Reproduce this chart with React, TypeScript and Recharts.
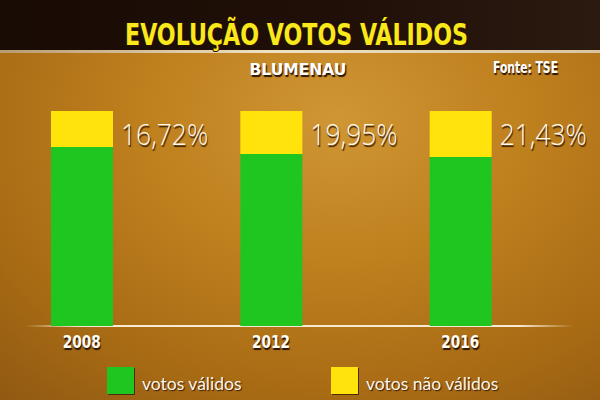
import React from "react";
import { BarChart, Bar, XAxis, YAxis, Legend, LabelList } from "recharts";

// votos por eleição (%), Blumenau - fonte TSE
const years = ["2008", "2012", "2016"];
const votosValidos = [83.28, 80.05, 78.57];
const votosNaoValidos = [16.72, 19.95, 21.43];

const GREEN = "#20c620";
const YELLOW = "#ffe30a";
const COND = "'DejaVu Sans Condensed', 'DejaVu Sans', sans-serif";
const SERIES_ORDER = ["validos", "naoValidos"];

const data = years.map((year, i) => ({
  year,
  validos: votosValidos[i],
  naoValidos: votosNaoValidos[i],
}));

const fmt = (v: number) => `${v.toFixed(2).replace(".", ",")}%`;

function YearTick({ x, y, payload }: any) {
  return (
    <text
      x={x}
      y={y + 22}
      textAnchor="middle"
      fill="#fffdf4"
      fontFamily={COND}
      fontWeight="bold"
      fontSize={18}
      textLength={38}
      lengthAdjust="spacingAndGlyphs"
      style={{ textShadow: "1px 2px 1px #2a1400" }}
    >
      {payload.value}
    </text>
  );
}

function PercentLabel({ x, y, width, value }: any) {
  const tx = x + width + 8;
  const ty = y + 34;
  return (
    <text
      transform={`translate(${tx},${ty}) scale(0.88,1)`}
      fill="#fffaf0"
      fontFamily="'Open Sans', Lato, sans-serif"
      fontWeight={300}
      fontSize={30}
      style={{ textShadow: "1px 2px 1px #3a1c00" }}
    >
      {fmt(value)}
    </text>
  );
}

export default function App() {
  return (
    <div
      style={{
        position: "absolute",
        left: 0,
        top: 0,
        width: 600,
        height: 400,
        overflow: "hidden",
        background:
          "radial-gradient(ellipse 90% 100% at 56% 30%, #d09634 0%, #bf801e 35%, #a76a14 70%, #8a5512 100%)",
      }}
    >
      {/* faixa do título */}
      <div
        style={{
          position: "absolute",
          left: 0,
          top: 0,
          width: 600,
          height: 50,
          background: "linear-gradient(to right, #190b05, #1f0f07 55%, #2b1a10)",
        }}
      />
      <div
        style={{
          position: "absolute",
          left: 0,
          top: 50,
          width: 600,
          height: 3,
          background: "linear-gradient(to right, #b89a70, #efe2c4 45%, #d8c4a0)",
        }}
      />
      {/* linha de base */}
      <div
        style={{
          position: "absolute",
          left: 25,
          top: 325,
          width: 549,
          height: 2,
          background:
            "linear-gradient(to right, rgba(250,236,205,0), #f7ead0 10%, #f7ead0 90%, rgba(250,236,205,0))",
        }}
      />

      <div style={{ position: "absolute", left: -13, top: 0 }}>
        <BarChart
          width={600}
          height={400}
          data={data}
          margin={{ top: 111, right: 32, bottom: 0, left: 0 }}
        >
          <XAxis
            dataKey="year"
            height={74}
            axisLine={false}
            tickLine={false}
            tickSize={0}
            tickMargin={0}
            tick={<YearTick />}
          />
          <YAxis hide domain={[0, 100]} />
          <Legend
            layout="horizontal"
            verticalAlign="middle"
            align="center"
            wrapperStyle={{ top: 367, left: 120, width: 440 }}
            content={({ payload }) => {
              const items = [...(payload ?? [])].sort(
                (a: any, b: any) =>
                  SERIES_ORDER.indexOf(a.dataKey) - SERIES_ORDER.indexOf(b.dataKey)
              );
              return (
                <div style={{ display: "flex" }}>
                  {items.map((entry: any, index: number) => (
                    <div
                      key={`item-${index}`}
                      style={{
                        display: "flex",
                        alignItems: "center",
                        width: index === 0 ? 224 : "auto",
                      }}
                    >
                      <span
                        style={{
                          display: "inline-block",
                          width: 27,
                          height: 27,
                          background: entry.color,
                          boxShadow: "1px 1px 0 #4a2c06",
                          marginRight: 8,
                        }}
                      />
                      <span
                        style={{
                          fontFamily: "Lato, 'Open Sans', sans-serif",
                          fontSize: 17.5,
                          color: "#fbf6ea",
                          paddingTop: 5,
                          textShadow: "1px 1px 1px #3a1c00",
                        }}
                      >
                        {entry.value}
                      </span>
                    </div>
                  ))}
                </div>
              );
            }}
          />
          <Bar
            dataKey="validos"
            name="votos válidos"
            stackId="a"
            fill={GREEN}
            barSize={62}
            isAnimationActive={false}
          />
          <Bar
            dataKey="naoValidos"
            name="votos não válidos"
            stackId="a"
            fill={YELLOW}
            barSize={62}
            isAnimationActive={false}
          >
            <LabelList dataKey="naoValidos" content={<PercentLabel />} />
          </Bar>
        </BarChart>
      </div>

      <svg
        width={600}
        height={400}
        style={{ position: "absolute", left: 0, top: 0, pointerEvents: "none" }}
      >
        <text
          x={296.5}
          y={45}
          textAnchor="middle"
          fontFamily={COND}
          fontWeight="bold"
          fontSize={31}
          textLength={343}
          lengthAdjust="spacingAndGlyphs"
          fill="#f9e81c"
          stroke="#2a1200"
          strokeWidth={2}
          paintOrder="stroke"
        >
          EVOLUÇÃO VOTOS VÁLIDOS
        </text>
        <text
          x={298}
          y={75}
          textAnchor="middle"
          fontFamily={COND}
          fontWeight="bold"
          fontSize={16.5}
          textLength={97}
          lengthAdjust="spacingAndGlyphs"
          fill="#ffffff"
          style={{ textShadow: "1px 2px 1px #2a1400" }}
        >
          BLUMENAU
        </text>
        <text
          x={493}
          y={73}
          fontFamily={COND}
          fontWeight="bold"
          fontSize={15}
          textLength={65}
          lengthAdjust="spacingAndGlyphs"
          fill="#ffffff"
          style={{ textShadow: "1px 2px 1px #2a1400" }}
        >
          Fonte: TSE
        </text>
      </svg>
    </div>
  );
}
